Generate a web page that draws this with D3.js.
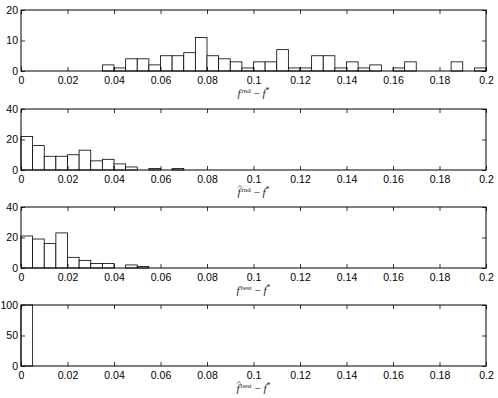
<!DOCTYPE html>
<html>
<head>
<meta charset="utf-8">
<script src="https://cdn.jsdelivr.net/npm/d3@7"></script>
<style>
  body { margin: 0; background: #fff; }
  .tick text { font-family: "Liberation Sans", Arial, sans-serif; font-size: 10.5px; fill: #000; }
  .xlab { font-family: "Liberation Serif", "DejaVu Serif", serif; font-size: 11px; fill: #222; }
</style>
</head>
<body>
<div id="canvas"></div>
<script>
// bin width of every histogram, bins start at 0
const binWidth = 0.005;

// counts per bin
const countsRnd = [0, 0, 0, 0, 0, 0, 0, 2, 1, 4, 4, 2, 5, 5, 6, 11, 5, 4, 3, 1,
                   3, 3, 7, 1, 1, 5, 5, 1, 3, 1, 2, 0, 1, 3, 0, 0, 0, 3, 0, 1];
const countsRndHat = [22, 16, 9, 9, 10, 13, 6, 7, 4, 2, 0, 1, 0, 1];
const countsBest = [21, 19, 16, 23, 7, 5, 3, 3, 0, 2, 1];
const countsBestHat = [100];

const yMaxes = [20, 40, 40, 100];
const yTickSets = [[0, 10, 20], [0, 20, 40], [0, 20, 40], [0, 50, 100]];
const xTicks = [0, 0.02, 0.04, 0.06, 0.08, 0.1, 0.12, 0.14, 0.16, 0.18, 0.2];
const labelHat = [false, true, false, true];
const labelSup = ["rnd", "rnd", "best", "best"];

const panels = [countsRnd, countsRndHat, countsBest, countsBestHat];

const width = 498, height = 398;
const left = 21, right = 486;
const tops = [10, 109, 207, 305];
const ph = 61;

let svg = d3.select("#canvas")
  .append("svg")
  .attr("width", width)
  .attr("height", height);

let x = d3.scaleLinear().domain([0, 0.2]).range([left, right]);

panels.forEach((counts, i) => {
  let top = tops[i];
  let y = d3.scaleLinear().domain([0, yMaxes[i]]).range([top + ph, top]);
  let g = svg.append("g");

  // bars
  g.selectAll("rect.bar")
    .data(counts.map((c, k) => ({ x0: k * binWidth, x1: (k + 1) * binWidth, c: c })))
    .enter()
    .append("rect")
    .attr("class", "bar")
    .attr("x", d => x(d.x0))
    .attr("width", d => x(d.x1) - x(d.x0))
    .attr("y", d => y(d.c))
    .attr("height", d => y(0) - y(d.c))
    .attr("fill", "#fff")
    .attr("stroke", "#000")
    .attr("stroke-width", 0.8);

  // bottom and left axes, ticks inside
  g.append("g")
    .attr("transform", "translate(0," + (top + ph) + ")")
    .call(d3.axisBottom(x).tickValues(xTicks).tickFormat(d3.format("~g")).tickSizeInner(-4).tickSizeOuter(0).tickPadding(6))
    .call(a => a.select(".domain").remove());
  g.append("g")
    .attr("transform", "translate(" + left + ",0)")
    .call(d3.axisLeft(y).tickValues(yTickSets[i]).tickSizeInner(-4).tickSizeOuter(0).tickPadding(3))
    .call(a => a.select(".domain").remove());

  // top and right ticks
  g.append("g")
    .attr("transform", "translate(0," + top + ")")
    .call(d3.axisTop(x).tickValues(xTicks).tickFormat("").tickSizeInner(-4).tickSizeOuter(0))
    .call(a => a.select(".domain").remove());
  g.append("g")
    .attr("transform", "translate(" + right + ",0)")
    .call(d3.axisRight(y).tickValues(yTickSets[i]).tickFormat("").tickSizeInner(-4).tickSizeOuter(0))
    .call(a => a.select(".domain").remove());

  g.selectAll(".tick line").attr("stroke", "#000").attr("stroke-width", 0.8);

  // frame
  g.append("rect")
    .attr("x", left).attr("y", top)
    .attr("width", right - left).attr("height", ph)
    .attr("fill", "none").attr("stroke", "#000").attr("stroke-width", 1);

  // x label
  let ly = top + ph + 26;
  let t = g.append("text")
    .attr("class", "xlab")
    .attr("x", (left + right) / 2)
    .attr("y", ly)
    .attr("text-anchor", "middle");
  t.append("tspan").attr("font-style", "italic").text("f");
  t.append("tspan").attr("dx", 1).attr("dy", -4).attr("font-size", 7).text(labelSup[i]);
  t.append("tspan").attr("dy", 4).text(" \u2212 ");
  t.append("tspan").attr("font-style", "italic").text("f");
  t.append("tspan").attr("dy", -4).attr("font-size", 8).text("*");

  // hat over the first f
  if (labelHat[i]) {
    let p = t.node().getStartPositionOfChar(0);
    let e = t.node().getExtentOfChar(0);
    let cx = p.x + e.width / 2 + 1, cy = ly - 10;
    g.append("path")
      .attr("d", "M" + (cx - 2) + "," + (cy + 1.5) + "L" + cx + "," + (cy - 0.5) + "L" + (cx + 2) + "," + (cy + 1.5))
      .attr("fill", "none")
      .attr("stroke", "#222")
      .attr("stroke-width", 0.7);
  }
});
</script>
</body>
</html>
